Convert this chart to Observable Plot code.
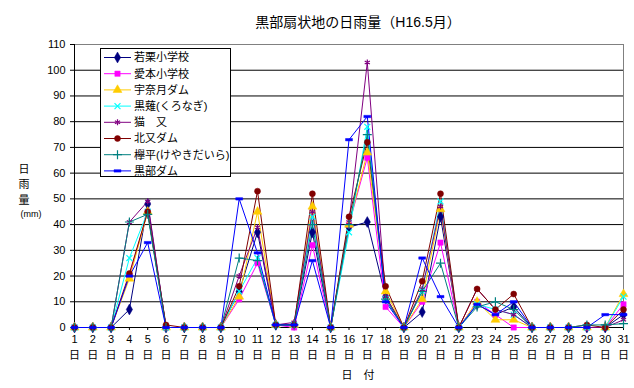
<!DOCTYPE html>
<html><head><meta charset="utf-8">
<script src="https://cdn.jsdelivr.net/npm/d3@7"></script>
<script src="https://cdn.jsdelivr.net/npm/@observablehq/plot@0.6"></script>
<style>body{margin:0;background:#fff}</style>
</head><body><div id="chart"></div>
<script>
const days = [1,2,3,4,5,6,7,8,9,10,11,12,13,14,15,16,17,18,19,20,21,22,23,24,25,26,27,28,29,30,31];
const yTicks = [0,10,20,30,40,50,60,70,80,90,100,110];
const seriesNames = ["若栗小学校","愛本小学校","宇奈月ダム","黒薙(くろなぎ)","猫　又","北又ダム","欅平(けやきだいら)","黒部ダム"];
const wakaguri  = [0,0,0,7,48,0,0,0,0,14,37,1,1,37,0,39,41,12,0,6,43,0,9,5,8,0,0,0,0,0,5];
const aimoto    = [0,0,0,20,45,0,0,0,0,11,25,1,0,32,0,40,66,8,0,10,33,0,10,5,0,0,0,0,0,0,9];
const unazuki   = [0,0,0,19,45,0,0,0,0,12,45,1,1,47,0,40,68,14,0,11,46,0,10,3,3,0,0,0,0,0,13];
const kuronagi  = [0,0,0,27,45,0,0,0,0,14,27,1,1,43,0,37,78,11,0,14,49,0,9,7,5,0,0,0,0,0,12];
const nekomata  = [0,0,0,41,49,0,0,0,0,20,39,1,2,45,0,41,103,12,0,15,47,0,15,7,5,0,0,0,0,0,3];
const kitamata  = [0,0,0,21,45,1,0,0,0,16,53,1,1,52,0,43,72,16,0,18,52,0,15,7,13,0,0,0,1,0,7];
const keyakidaira=[0,0,0,41,44,0,0,0,0,27,26,1,1,40,0,40,75,11,0,14,25,0,8,10,7,0,0,0,1,1,1.5];
const kurobeDam = [0,0,0,20,33,0,0,0,0,50,29,1,1,26,0,73,82,10,0,27,12,0,9,5,10,0,0,0,0,5,5];
const seriesValues = [wakaguri, aimoto, unazuki, kuronagi, nekomata, kitamata, keyakidaira, kurobeDam];
const colors = ["#000080","#FF00FF","#FFCC00","#00FFFF","#800080","#800000","#008080","#0000FF"];

const dash = {draw(ctx, size){ const w = Math.sqrt(size)*1.3, h = Math.sqrt(size)*0.45; ctx.rect(-w/2,-h/2,w,h); }};
const symbols = [
  {type: d3.symbolDiamond, filled: true, r: 3.3},
  {type: d3.symbolSquare, filled: true, r: 3.0},
  {type: d3.symbolTriangle, filled: true, r: 3.3},
  {type: d3.symbolTimes, filled: false, r: 2.8},
  {type: d3.symbolAsterisk, filled: false, r: 2.8},
  {type: d3.symbolCircle, filled: true, r: 3.0},
  {type: d3.symbolPlus, filled: false, r: 3.0},
  {type: dash, filled: true, r: 3.0}
];

const rows = [];
seriesNames.forEach((name, si) => days.forEach((d, i) => rows.push({series: name, si, day: d, value: seriesValues[si][i]})));

const font = "'Liberation Sans','Noto Sans CJK JP',sans-serif";
const marks = [
  Plot.ruleY(yTicks.filter(v => v < 110), {stroke: "#000", strokeWidth: 1}),
  Plot.ruleY([110], {stroke: "#808080"}),
  Plot.ruleX([31], {stroke: "#808080"}),
  Plot.ruleX([1], {stroke: "#000"}),
  Plot.axisY({ticks: yTicks, tickSize: 4, tickPadding: 5, label: null, fontSize: 11}),
  Plot.axisX({ticks: days, tickSize: 3, tickPadding: 5, label: null, tickFormat: d => String(d), fontSize: 11}),
  Plot.text(days, {x: d => d, text: () => "日", frameAnchor: "bottom", dy: 31, fontSize: 11}),
];
seriesNames.forEach((name, si) => {
  const data = rows.filter(r => r.si === si);
  marks.push(Plot.line(data, {x: "day", y: "value", stroke: colors[si], strokeWidth: 1}));
});
seriesNames.forEach((name, si) => {
  const data = rows.filter(r => r.si === si);
  const s = symbols[si];
  marks.push(Plot.dot(data, {x: "day", y: "value", symbol: () => s.type, r: s.r,
    fill: s.filled ? colors[si] : "none", stroke: colors[si], strokeWidth: s.filled ? 0.5 : 1.2}));
});
marks.push(
  Plot.text(["黒部扇状地の日雨量（H16.5月）"], {frameAnchor: "top", dy: -27, dx: 9, fontSize: 14}),
  Plot.text(["日　付"], {frameAnchor: "bottom", dy: 51, dx: 9, fontSize: 11}),
  Plot.text(["日"], {frameAnchor: "top-left", dx: -56, dy: 121, fontSize: 11}),
  Plot.text(["雨"], {frameAnchor: "top-left", dx: -56, dy: 136, fontSize: 11}),
  Plot.text(["量"], {frameAnchor: "top-left", dx: -56, dy: 152, fontSize: 11}),
  Plot.text(["(mm)"], {frameAnchor: "top-left", dx: -54, dy: 166, fontSize: 9})
);

const chart = Plot.plot({
  width: 634, height: 388,
  marginLeft: 74, marginRight: 11, marginTop: 44, marginBottom: 61,
  x: {type: "linear", domain: [1, 31]},
  y: {domain: [0, 110]},
  style: {fontFamily: font, fontSize: "11px", background: "#fff", color: "#000", overflow: "visible"},
  marks
});
document.getElementById("chart").appendChild(chart);

// legend box inside the plot area
const svg = d3.select(chart);
const lg = svg.append("g").attr("font-family", font).attr("font-size", 11).attr("text-anchor", "start");
lg.append("rect").attr("x", 100.5).attr("y", 48.5).attr("width", 130).attr("height", 128)
  .attr("fill", "#fff").attr("stroke", "#000");
seriesNames.forEach((name, si) => {
  const cy = 57.5 + si * 16.2;
  lg.append("line").attr("x1", 104).attr("x2", 131).attr("y1", cy).attr("y2", cy)
    .attr("stroke", colors[si]).attr("stroke-width", 1);
  const s = symbols[si];
  lg.append("path").attr("transform", `translate(117.5,${cy})`)
    .attr("d", d3.symbol(s.type, Math.PI * s.r * s.r)())
    .attr("fill", s.filled ? colors[si] : "none").attr("stroke", colors[si]).attr("stroke-width", s.filled ? 0.5 : 1.2);
  lg.append("text").attr("x", 134).attr("y", cy).attr("dy", "0.35em").attr("text-anchor", "start").text(name);
});
</script></body></html>
